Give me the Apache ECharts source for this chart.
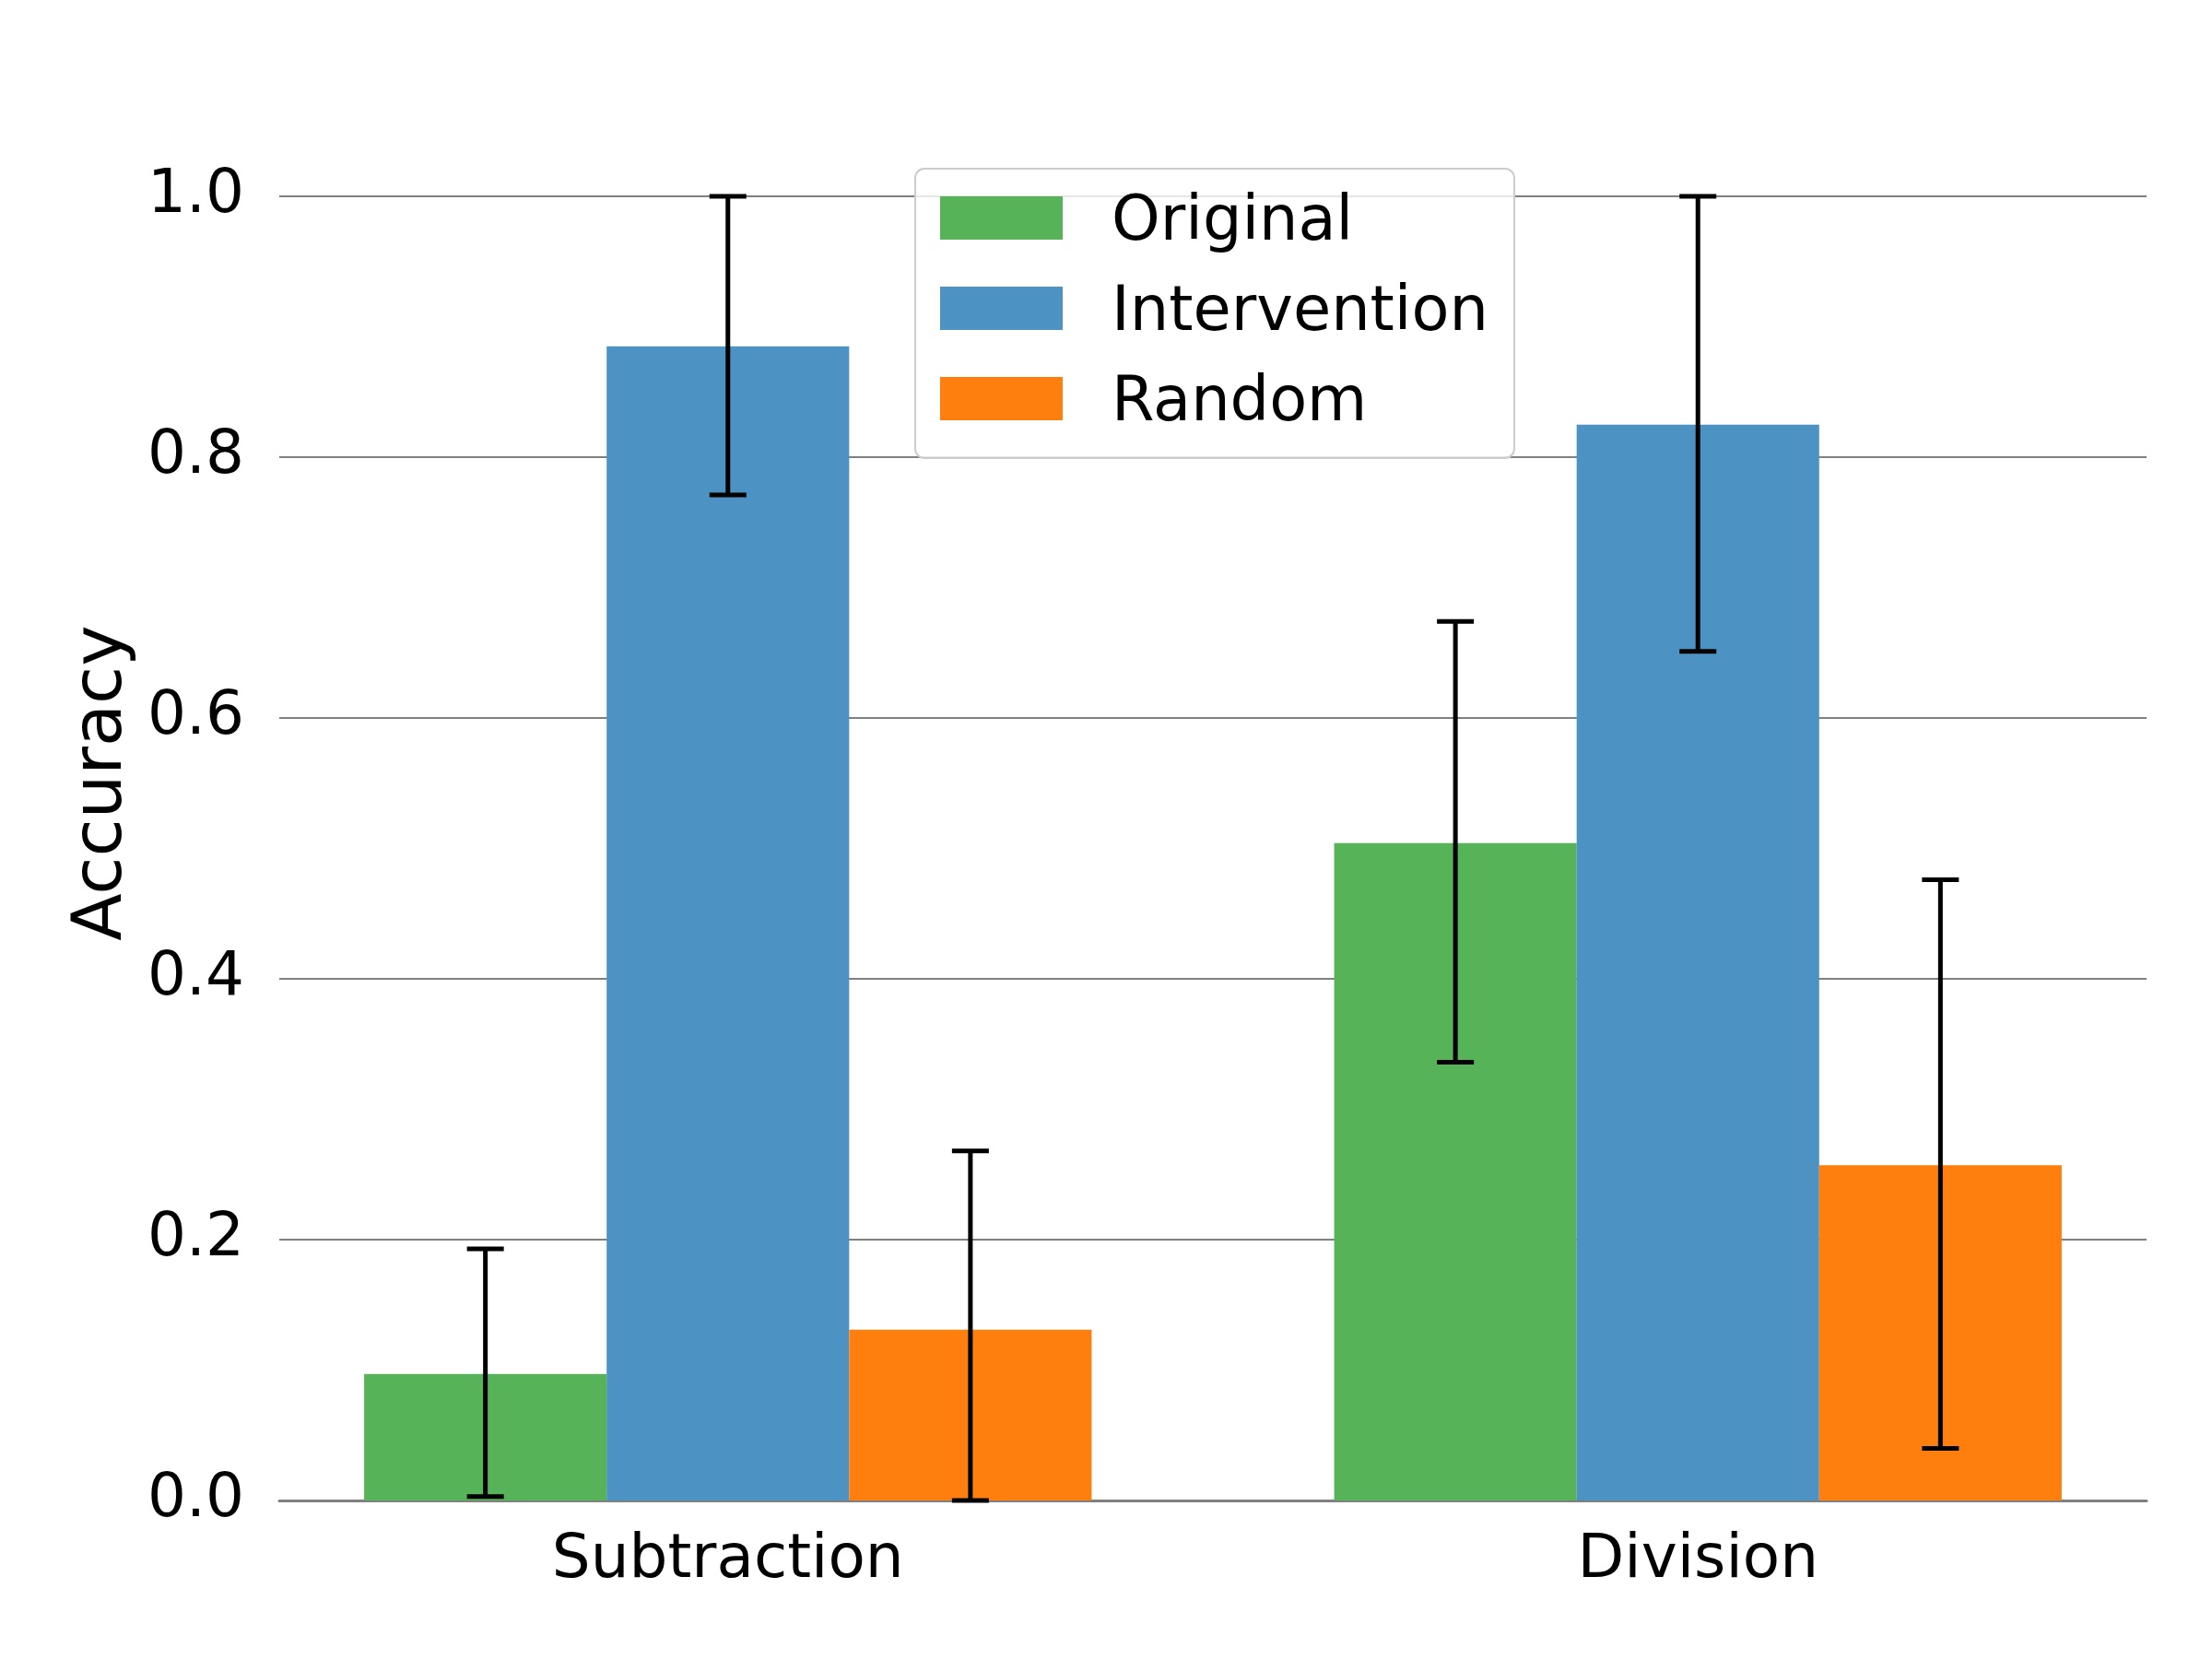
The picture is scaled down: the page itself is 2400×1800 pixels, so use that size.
<!DOCTYPE html>
<html>
<head>
<meta charset="utf-8">
<script src="https://cdn.jsdelivr.net/npm/echarts@6/dist/echarts.min.js"></script>
<style>html,body{margin:0;padding:0;background:#fff;}#c{width:2400px;height:1800px;}</style>
</head>
<body>
<div id="c"></div>
<script>
const categories = ['Subtraction', 'Division'];
const seriesNames = ['Original', 'Intervention', 'Random'];
const original = [0.097, 0.504];
const originalLow = [0.003, 0.336];
const originalHigh = [0.193, 0.674];
const intervention = [0.885, 0.825];
const interventionLow = [0.771, 0.651];
const interventionHigh = [1.0, 1.0];
const random = [0.131, 0.257];
const randomLow = [0.0, 0.040];
const randomHigh = [0.268, 0.476];
const yTicks = [0, 0.2, 0.4, 0.6, 0.8, 1.0];

const colors = ['#56B357', '#4C92C3', '#FF7F0E'];
const barWidth = 0.25;
const offsets = [-0.25, 0, 0.25];
const groups = [
  [original, originalLow, originalHigh],
  [intervention, interventionLow, interventionHigh],
  [random, randomLow, randomHigh]
];
const FONT = 'DejaVu Sans';

const chart = echarts.init(document.getElementById('c'));
const series = [];
groups.forEach((g, si) => {
  const data = categories.map((c, i) => [i, g[0][i], g[1][i], g[2][i]]);
  series.push({
    name: seriesNames[si],
    type: 'custom',
    itemStyle: { color: colors[si] },
    z: 2,
    data: data,
    renderItem: function (params, api) {
      const xc = api.value(0) + offsets[si];
      const p0 = api.coord([xc - barWidth / 2, 0]);
      const p1 = api.coord([xc + barWidth / 2, api.value(1)]);
      return {
        type: 'rect',
        shape: { x: p0[0], y: p1[1], width: p1[0] - p0[0], height: p0[1] - p1[1] },
        style: { fill: colors[si] }
      };
    }
  });
  series.push({
    name: seriesNames[si] + '_err',
    type: 'custom',
    z: 5,
    data: data,
    renderItem: function (params, api) {
      const xc = api.value(0) + offsets[si];
      const lo = api.coord([xc, api.value(2)]);
      const hi = api.coord([xc, api.value(3)]);
      const cap = 20;
      const st = { stroke: '#000', lineWidth: 5 };
      return {
        type: 'group',
        children: [
          { type: 'line', shape: { x1: lo[0], y1: lo[1], x2: hi[0], y2: hi[1] }, style: st },
          { type: 'line', shape: { x1: lo[0] - cap, y1: lo[1], x2: lo[0] + cap, y2: lo[1] }, style: st },
          { type: 'line', shape: { x1: hi[0] - cap, y1: hi[1], x2: hi[0] + cap, y2: hi[1] }, style: st }
        ]
      };
    }
  });
});

chart.setOption({
  animation: false,
  backgroundColor: '#fff',
  grid: { left: 303, right: 71, top: 213, bottom: 172, containLabel: false },
  legend: {
    orient: 'vertical',
    left: 993,
    top: 183,
    padding: [14, 28, 25, 27],
    itemGap: 19,
    itemWidth: 133,
    itemHeight: 47,
    backgroundColor: 'rgba(255,255,255,0.8)',
    borderColor: '#cccccc',
    borderWidth: 2,
    borderRadius: 10,
    data: seriesNames.map((n, i) => ({ name: n, icon: 'rect', itemStyle: { color: colors[i] } })),
    formatter: function (n) { return '{t|' + n + '}'; },
    textStyle: {
      fontFamily: FONT, fontSize: 67, color: '#000', padding: [0, 0, 0, 48],
      rich: { t: { fontFamily: FONT, fontSize: 67, color: '#000', lineHeight: 66, padding: [12, 0, 0, 0] } }
    }
  },
  xAxis: {
    type: 'value',
    min: -0.4625,
    max: 1.4625,
    splitLine: { show: false },
    axisLine: { show: true, lineStyle: { color: '#808080', width: 3 } },
    axisTick: { show: false },
    axisLabel: {
      customValues: [0, 1],
      formatter: function (v) { return categories[Math.round(v)]; },
      fontFamily: FONT, fontSize: 66, color: '#000', margin: 33
    }
  },
  yAxis: {
    type: 'value',
    min: 0,
    max: 1.0,
    interval: 0.2,
    name: 'Accuracy',
    nameLocation: 'middle',
    nameGap: 153,
    nameTextStyle: { fontFamily: FONT, fontSize: 75, color: '#000', padding: [0, 0, 0, 142] },
    axisLine: { show: false },
    axisTick: { show: false },
    splitLine: { show: true, lineStyle: { color: '#808080', width: 2 } },
    axisLabel: {
      formatter: function (v) { return v.toFixed(1); },
      fontFamily: FONT, fontSize: 66, color: '#000', margin: 38
    }
  },
  series: series
});
</script>
</body>
</html>
